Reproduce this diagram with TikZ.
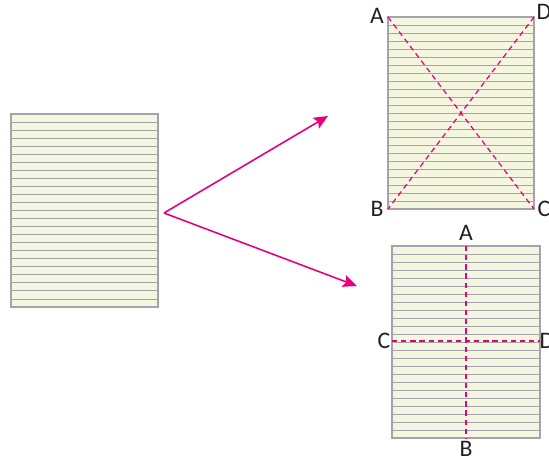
\documentclass[tikz,border=0pt]{standalone}
\usepackage{fontspec}
\setmainfont{Carlito}
\usetikzlibrary{arrows.meta}

\definecolor{paper}{HTML}{F4F6DF}
\definecolor{ruling}{HTML}{A3A3AB}
\definecolor{fold}{HTML}{E6007E}
\definecolor{letter}{HTML}{231F20}

% ruled sheet: left, top, right, bottom (pixels)
\newcommand{\ruledsheet}[4]{%
  \fill[paper] (#1,#2) rectangle (#3,#4);
  \foreach \k in {1,...,23}
    \draw[ruling, line width=0.5pt] (#1,{#2+\k*(#4-#2)/24}) -- (#3,{#2+\k*(#4-#2)/24});
  \draw[ruling, line width=0.8pt] (#1,#2) rectangle (#3,#4);
}

\begin{document}
\begin{tikzpicture}[x=0.02cm, y=-0.02cm,
    foldline/.style={fold, line width=0.7pt, dash pattern=on 3pt off 2.2pt},
    pointer/.style={fold, line width=0.9pt, -{Stealth[length=8pt, width=7pt, inset=1.5pt]}},
    corner/.style={text=letter, font=\fontsize{13.5}{13.5}\selectfont, inner sep=0pt}]

    \useasboundingbox (0,0) rectangle (549,461);

    % Original sheet
    \ruledsheet{11}{114}{158}{307}

    % Fold along the diagonals
    \ruledsheet{388}{17}{534}{209}
    \coordinate (dA) at (388,17);
    \coordinate (dD) at (534,17);
    \coordinate (dB) at (388,209);
    \coordinate (dC) at (534,209);
    \draw[foldline] (dA) -- (dC);
    \draw[foldline] (dD) -- (dB);
    \node[corner] (labdA) at (377,16) {A};
    \node[corner] (labdD) at (544,12) {D};
    \node[corner] (labdB) at (377,209) {B};
    \node[corner] (labdC) at (544,209) {C};

    % Fold through the middle
    \ruledsheet{392}{246}{540}{438}
    \coordinate (mA) at (466,246);
    \coordinate (mB) at (466,438);
    \coordinate (mC) at (392,341);
    \coordinate (mD) at (540,341);
    \draw[foldline] (mA) -- (mB);
    \draw[foldline] (mC) -- (mD);
    \node[corner] (labmA) at (466,233) {A};
    \node[corner] (labmB) at (466,449) {B};
    \node[corner] (labmC) at (384,341) {C};
    \node[corner] (labmD) at (547,341) {D};

    % Arrows
    \coordinate (fork) at (164,213);
    \coordinate (tipup) at (328,116);
    \coordinate (tipdown) at (357,286);
    \draw[pointer] (fork) -- (tipup);
    \draw[pointer] (fork) -- (tipdown);

\end{tikzpicture}
\end{document}
